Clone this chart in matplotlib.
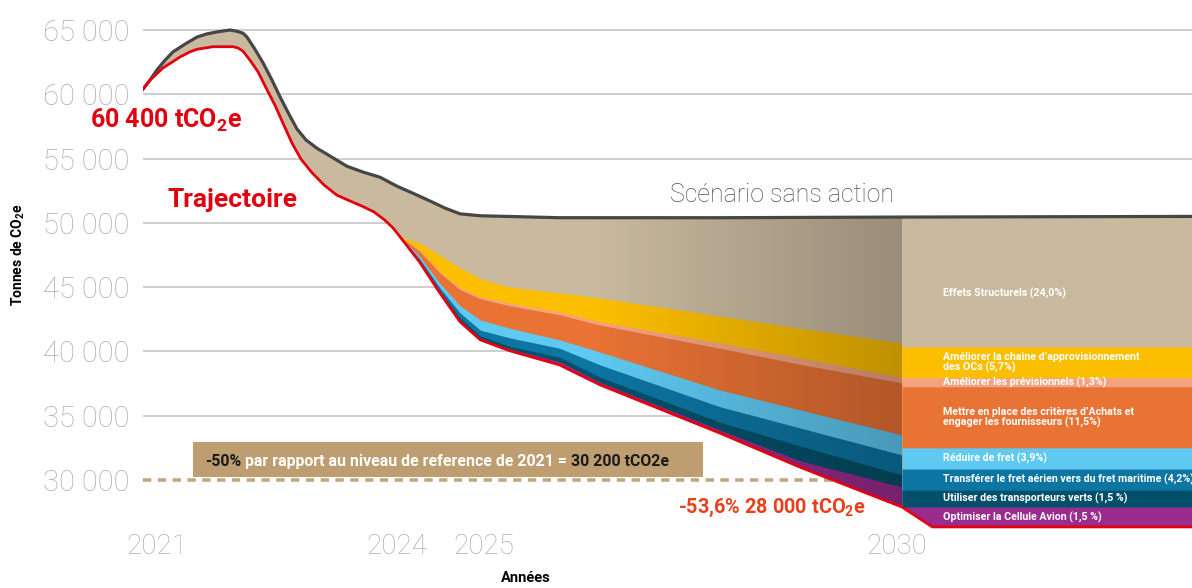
import numpy as np
import matplotlib.pyplot as plt
from matplotlib.patches import Polygon, Rectangle
from matplotlib.transforms import ScaledTranslation

plt.rcParams['font.family'] = ['Roboto', 'DejaVu Sans']
plt.rcParams['mathtext.default'] = 'regular'

#------------------------------- data (tCO2e) -------------------------------
# scenario without action (dark line)
top_years = [2021.0, 2021.083, 2021.166, 2021.261, 2021.356, 2021.498, 2021.64, 2021.759, 2021.878,
             2022.032, 2022.115, 2022.186, 2022.233, 2022.328, 2022.423, 2022.53, 2022.625, 2022.731,
             2022.826, 2022.933, 2023.063, 2023.217, 2023.419, 2023.609, 2023.81, 2024.012, 2024.202,
             2024.403, 2024.581, 2024.759, 2025.0, 2025.94, 2027.84, 2030.0, 2033.44]
no_action = [60400, 61100, 61900, 62650, 63300, 63900, 64450, 64700, 64850,
             65000, 64900, 64750, 64450, 63500, 62450, 61100, 59800, 58450,
             57300, 56450, 55800, 55200, 54400, 53950, 53550, 52850, 52300,
             51700, 51150, 50700, 50550, 50400, 50400, 50450, 50500]

# trajectory (red line)
traj_years = [2021.0, 2021.083, 2021.237, 2021.344, 2021.439, 2021.557, 2021.64, 2021.735, 2021.83,
              2022.067, 2022.127, 2022.186, 2022.269, 2022.364, 2022.459, 2022.565, 2022.66, 2022.767,
              2022.874, 2023.004, 2023.146, 2023.3, 2023.455, 2023.597, 2023.739, 2023.87, 2023.965,
              2024.05, 2024.28, 2024.52, 2024.76, 2025.0, 2025.35, 2025.94, 2026.42,
              2027.84, 2028.79, 2030.0, 2030.36, 2033.44]
trajectory = [60400, 61100, 62050, 62500, 62900, 63300, 63500, 63600, 63700,
              63700, 63600, 63350, 62650, 61750, 60500, 59150, 57750, 56200,
              54950, 53900, 52950, 52150, 51700, 51300, 50850, 50200, 49600,
              48900, 46950, 44550, 42300, 40900, 40050, 38950, 37400,
              33650, 31000, 27900, 26350, 26350]

# upper edge of each lever band between 2024 and 2030
band_years = [2024.05, 2024.28, 2024.52, 2024.76, 2025.0, 2025.35, 2025.94, 2026.42, 2027.84, 2028.79, 2030.0]
yellow_top = [48900, 48450, 47500, 46500, 45650, 45000, 44550, 44150, 42750, 41800, 40650]
salmon_top = [48900, 47900, 46200, 44950, 44250, 43750, 43050, 42300, 40650, 39500, 38000]
orange_top = [48900, 47800, 46100, 44800, 44100, 43550, 42850, 42050, 40250, 39000, 37550]
lblue_top = [48900, 47400, 45300, 43550, 42450, 41800, 40900, 39950, 37000, 35450, 33500]
blue_top = [48900, 47200, 44950, 43000, 41650, 41050, 40250, 38950, 35700, 34050, 31950]
dark_top = [48900, 47050, 44700, 42600, 41200, 40400, 39550, 38000, 34500, 32650, 30400]
purple_top = [48900, 46950, 44600, 42350, 40950, 40200, 39200, 37600, 33900, 31500, 29450]

# 2030 breakdown block (upper edges, same order)
block_years = [2030.0, 2030.36, 2033.44]
block_tops = [40350, 37950, 37250, 32500, 30850, 29200, 27900]

lever_labels = ["Améliorer la chaine d’approvisionnement\ndes OCs (5,7%)",
                "Améliorer les prévisionnels (1,3%)",
                "Mettre en place des critères d’Achats et\nengager les fournisseurs (11,5%)",
                "Réduire de fret (3,9%)",
                "Transférer le fret aérien vers du fret maritime (4,2%)",
                "Utiliser des transporteurs verts (1,5 %)",
                "Optimiser la Cellule Avion (1,5 %)"]
structural_label = "Effets Structurels (24,0%)"

year_ticks = [2021, 2024, 2025, 2030]
y_ticks = [30000, 35000, 40000, 45000, 50000, 55000, 60000, 65000]

TAN = '#C9BA9F'
RED = '#E3000F'
band_colors = ['#FCBF00', '#F3A382', '#E97335', '#5FC9F1', '#0D75A2', '#04506A', '#9A2C8E']

#------------------------------- figure -------------------------------
W, H = 1192, 588
fig = plt.figure(figsize=(W / 100, H / 100), dpi=100)
ax = fig.add_axes([143 / W, 1 - 530 / H, 1049 / W, 530 / H])

# tan area between the two scenarios
x_poly = np.r_[top_years, traj_years[::-1]]
y_poly = np.r_[no_action, trajectory[::-1]]
ax.fill(x_poly, y_poly, color=TAN, lw=0, zorder=1)

# lever bands, drawn from the top one down so they overlap without seams
bottom = np.interp(band_years, traj_years, trajectory)
for top, c in zip([yellow_top, salmon_top, orange_top, lblue_top, blue_top, dark_top, purple_top], band_colors):
    ax.fill_between(band_years, bottom, top, color=c, lw=0, zorder=2)

bbottom = np.interp(block_years, traj_years, trajectory)
for top, c in zip(block_tops, band_colors):
    ax.fill_between(block_years, bbottom, [top] * len(block_years), color=c, lw=0, zorder=2)

# darkening towards 2030
clip = Polygon(np.column_stack([x_poly, y_poly]), closed=True, transform=ax.transData, fc='none', ec='none')
ax.add_patch(clip)
xs = np.linspace(2021, 2030, 400)
img = np.zeros((1, 400, 4))
img[..., 3] = np.clip((xs - 2026.3) / (2030 - 2026.3), 0, 1) * 0.24
im = ax.imshow(img, extent=(2021, 2030, 25000, 66000), aspect='auto', interpolation='bilinear', zorder=3)
im.set_clip_path(clip)

ax.plot(top_years, no_action, color='#464646', lw=2.3, zorder=4, solid_joinstyle='round')
ax.plot(traj_years, trajectory, color=RED, lw=2.0, zorder=4, solid_joinstyle='round')

ax.set_xlim(2021.0, 2021 + 1049 / 84.33)
ax.set_ylim(67333 - 77.78 * 530, 67333)
for s in ax.spines.values():
    s.set_visible(False)

ax.set_axisbelow(True)
ax.set_yticks(y_ticks, [f"{v // 1000} 000" for v in y_ticks], fontsize=21, fontweight='light', color='#AEAEAE')
ax.grid(axis='y', color='#C6C6C6', lw=1.2)
gl = ax.get_ygridlines()[0]
gl.set_color('#C2A77E')
gl.set_linewidth(2.6)
gl.set_linestyle((0, (2.3, 1.8)))
ax.tick_params(axis='y', length=0, pad=9.5)

ax.set_xticks(year_ticks, [str(y) for y in year_ticks], fontsize=20, fontweight='light', color='#AEAEAE')
ax.tick_params(axis='x', length=0, pad=2)
for lab, dx in zip(ax.get_xticklabels(), [14, 1, 3, -5]):
    lab.set_transform(lab.get_transform() + ScaledTranslation(dx / 100, 0, fig.dpi_scale_trans))

# block labels
mids = [(a + b) / 2 for a, b in zip(block_tops, block_tops[1:] + [26350])]
for lab, y in zip(lever_labels, mids):
    ax.text(2030.49, y, lab, color='white', fontsize=7.7, fontweight='bold',
            va='center', ha='left', linespacing=1.0, zorder=5)
ax.text(2030.49, 44550, structural_label, color='white', fontsize=7.7, fontweight='bold',
        va='center', ha='left', zorder=5)

# annotations
fig.text(90 / W, 1 - 128 / H, "60 400 tCO$_2$e", color=RED, fontsize=18, fontweight='bold')
fig.text(167 / W, 1 - 207 / H, "Trajectoire", color=RED, fontsize=19, fontweight='bold')
fig.text(678 / W, 1 - 513 / H, "-53,6% 28 000 tCO$_2$e", color='#E6411C', fontsize=14.3, fontweight='bold')
fig.text(670 / W, 1 - 202 / H, "Scénario sans action", color='#505050', fontsize=18, fontweight='light')

ax.add_patch(Rectangle((193 / W, 1 - 477 / H), 510 / W, 35 / H, transform=fig.transFigure,
                       color='#BE9E70', lw=0, clip_on=False, zorder=5))
t1 = fig.text(205 / W, 1 - 466 / H, "-50%", color='#1A1A1A', fontsize=11.4, fontweight='bold')
t2 = ax.annotate(" par rapport au niveau de reference de 2021 = ", xy=(1, 0), xycoords=t1, va='bottom',
                 color='white', fontsize=11.4, fontweight='bold', annotation_clip=False, zorder=6)
ax.annotate("30 200 tCO2e", xy=(1, 0), xycoords=t2, va='bottom',
            color='#1A1A1A', fontsize=11.4, fontweight='bold', annotation_clip=False, zorder=6)

fig.text(18 / W, 1 - 255 / H, "Tonnes de CO$_2$e", rotation=90, ha='center', va='center',
         fontsize=10, fontweight='bold', color='black')
fig.text(526 / W, 1 - 578 / H, "Années", ha='center', va='center', fontsize=10.5, fontweight='bold',
         color='black')

fig.savefig("out.png", dpi=100)
